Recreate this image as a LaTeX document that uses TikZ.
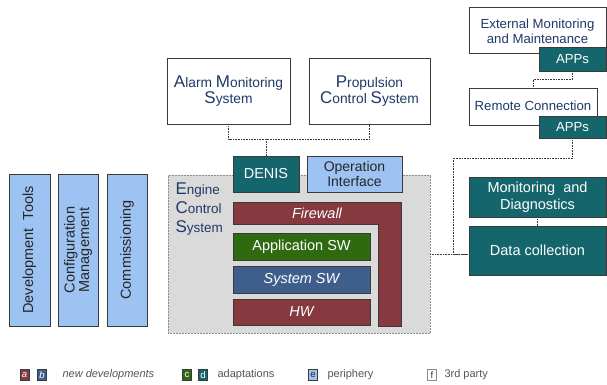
\documentclass[tikz,border=0pt]{standalone}
\usepackage{fontspec}
\setmainfont{Liberation Sans}
\definecolor{tealA}{HTML}{15666C}
\definecolor{lblue}{HTML}{9DC3F2}
\definecolor{maroonA}{HTML}{86393F}
\definecolor{greenA}{HTML}{2F6A10}
\definecolor{steelA}{HTML}{3E5F8C}
\definecolor{bggray}{HTML}{DADADA}
\definecolor{dblue}{HTML}{1F3A68}
\definecolor{legtxt}{HTML}{555555}
\definecolor{bord}{HTML}{3A3A3A}
\newcommand\fcap[1]{{\fontsize{17}{16}\selectfont #1}}
\tikzset{
  box/.style={draw=bord, line width=0.6pt, inner sep=0pt, align=center},
  whitebox/.style={box, fill=white, text=dblue},
  tealbox/.style={box, fill=tealA, text=white},
  bluebox/.style={box, fill=lblue, text=black!85},
  maroonbox/.style={box, fill=maroonA, text=white},
  greenbox/.style={box, fill=greenA, text=white},
  steelbox/.style={box, fill=steelA, text=white},
  conn/.style={draw=bord, line width=0.6pt, densely dotted},
  big/.style={font=\fontsize{14.5}{16.5}\selectfont},
  bigit/.style={font=\fontsize{14.5}{16.5}\selectfont\itshape},
  mid/.style={font=\fontsize{13.2}{15}\selectfont},
  legsq/.style={inner sep=0pt, minimum width=9pt, minimum height=11pt, draw=bord, line width=0.5pt, font=\fontsize{9.5}{9.5}\selectfont},
  legtext/.style={anchor=west, text=legtxt, font=\fontsize{11}{12}\selectfont},
}
\begin{document}
\begin{tikzpicture}[x=1pt,y=-1pt]
\useasboundingbox (0,0) rectangle (607,385);
\fill[white] (0,0) rectangle (607,385);

% Engine Control System background
\node[draw=black!45, densely dotted, line width=0.5pt, fill=bggray, minimum width=262pt, minimum height=158pt, inner sep=0pt] (ecs) at (299,254) {};
\node[anchor=north west, align=left, text=dblue, font=\fontsize{13.5}{19}\selectfont] (ecslbl) at (172,179) {\fcap{E}ngine\\\fcap{C}ontrol\\\fcap{S}ystem};

% top systems
\node[whitebox, font=\fontsize{13.8}{16.5}\selectfont, minimum width=123pt, minimum height=66pt] (alarm) at (228.5,91) {\fcap{A}larm \fcap{M}onitoring\\\fcap{S}ystem};
\node[whitebox, font=\fontsize{13.8}{16.5}\selectfont, minimum width=121pt, minimum height=66pt] (prop) at (369.5,91) {\fcap{P}ropulsion\\\fcap{C}ontrol \fcap{S}ystem};

% DENIS and Operation Interface
\node[tealbox, big, minimum width=66pt, minimum height=36pt] (denis) at (266,174) {DENIS};
\node[bluebox, minimum width=95pt, minimum height=36pt, font=\fontsize{14}{15.5}\selectfont] (opif) at (354.5,174) {Operation\\Interface};

% Firewall L-shape
\filldraw[fill=maroonA, draw=bord, line width=0.6pt] (233,202) -- (401,202) -- (401,326) -- (378,326) -- (378,224) -- (233,224) -- cycle;
\node[text=white, bigit] (fw) at (317,213) {Firewall};

% layers
\node[greenbox, big, minimum width=137pt, minimum height=27pt] (appsw) at (301.5,246.5) {Application\ SW};
\node[steelbox, bigit, minimum width=137pt, minimum height=27pt] (syssw) at (301.5,279.5) {System SW};
\node[maroonbox, bigit, minimum width=137pt, minimum height=26pt] (hw) at (301.5,312) {HW};

% left columns
\node[bluebox, big, rotate=90, minimum width=152pt, minimum height=41pt] (dev) at (29.5,250) {Development\ \ Tools};
\node[bluebox, rotate=90, minimum width=152pt, minimum height=40pt, font=\fontsize{14.5}{14.5}\selectfont] (conf) at (78,250) {Configuration\\Management};
\node[bluebox, big, rotate=90, minimum width=152pt, minimum height=40pt] (comm) at (127,250) {Commissioning};

% right side
\node[whitebox, mid, minimum width=137pt, minimum height=46pt] (ext) at (537.5,30) {};
\node[text=dblue, mid, align=center] (extlbl) at (537.5,31) {External Monitoring\\and Maintenance};
\node[tealbox, mid, minimum width=67pt, minimum height=24pt] (apps1) at (572.5,59) {APPs};
\node[whitebox, mid, minimum width=128pt, minimum height=37pt] (remote) at (533,106.5) {};
\node[text=dblue, mid] (remlbl) at (533,106) {Remote Connection};
\node[tealbox, mid, minimum width=67pt, minimum height=22pt] (apps2) at (572.5,127) {APPs};
\node[tealbox, big, minimum width=137pt, minimum height=40pt] (mon) at (537.5,197) {Monitoring\ \ and\\Diagnostics};
\node[tealbox, big, minimum width=137pt, minimum height=49pt] (data) at (537.5,250.5) {Data collection};

% connectors
\coordinate (j) at (266,139);
\draw[conn] (alarm.south) |- (j) -| (prop.south);
\draw[conn] (denis.north) -- (j);
\draw[conn] (apps1.south) -- ++(0,8) -| (remote.north);
\coordinate (k) at (453,158);
\draw[conn] (apps2.south) |- (k) |- (data.west |- ecs.east);
\draw[conn] (ecs.east) -- (data.west |- ecs.east);
\draw[conn] (mon.south) -- (data.north);

% legend
\node[legsq, fill=maroonA, text=white, font=\fontsize{9.5}{9.5}\selectfont\itshape] (la) at (24.5,375) {a};
\node[legsq, fill=steelA, text=white, font=\fontsize{9.5}{9.5}\selectfont\itshape] (lb) at (42,375) {b};
\node[legtext, font=\fontsize{11}{12}\selectfont\itshape] (lnew) at (59,375) {new developments};
\node[legsq, fill=greenA, text=white] (lc) at (187,375) {c};
\node[legsq, fill=tealA, text=white] (ld) at (203,375) {d};
\node[legtext] (ladapt) at (214,375) {adaptations};
\node[legsq, fill=lblue, text=black!85] (le) at (313,375) {e};
\node[legtext] (lper) at (324,375) {periphery};
\node[legsq, fill=white, draw=black!45, text=black!80] (lf) at (432,375) {f};
\node[legtext] (l3rd) at (441,375) {3rd party};
\end{tikzpicture}
\end{document}
